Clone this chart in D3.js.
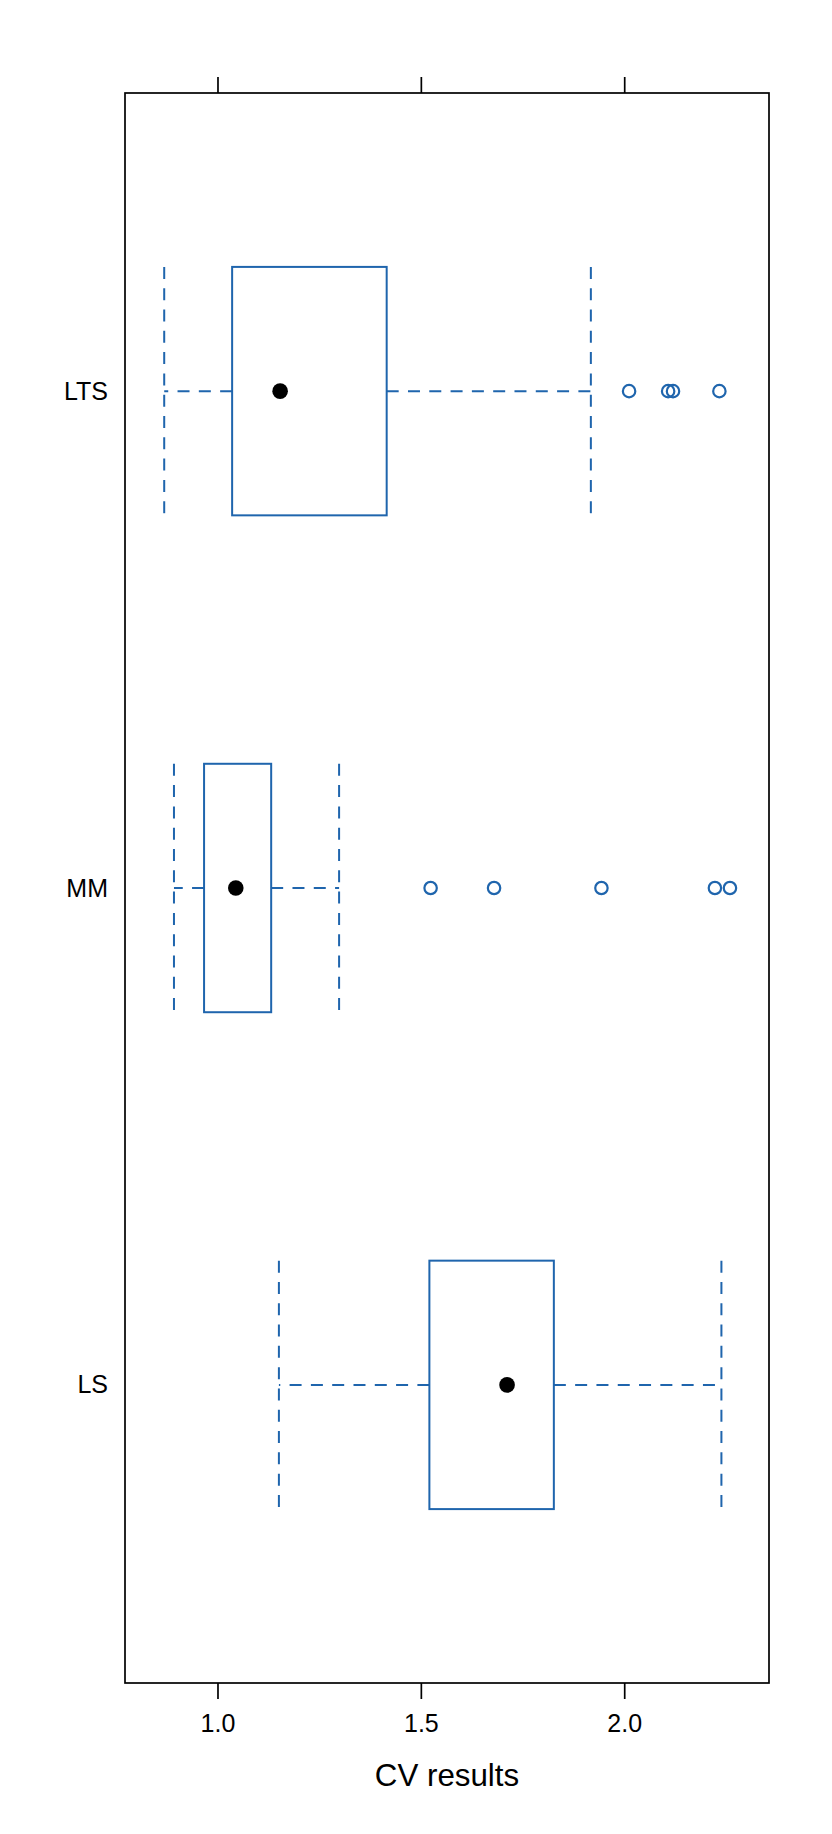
<!DOCTYPE html>
<html>
<head>
<meta charset="utf-8">
<script src="https://cdn.jsdelivr.net/npm/d3@7"></script>
<style>
  html, body { margin: 0; padding: 0; background: #ffffff; }
  svg { display: block; font-family: "Liberation Sans", Arial, Helvetica, sans-serif; }
</style>
</head>
<body>
<svg id="chart" width="832" height="1834"></svg>
<script>
// ---- data ----
const categories = ["LTS", "MM", "LS"];          // top to bottom
const whiskerLow  = [0.869, 0.893, 1.151];
const boxLow      = [1.036, 0.967, 1.521];
const medians     = [1.154, 1.045, 1.712];
const boxHigh     = [1.416, 1.132, 1.827];
const whiskerHigh = [1.918, 1.299, 2.239];
const outliers    = [
  [2.012, 2.108, 2.120, 2.234],
  [1.524, 1.680, 1.944, 2.223, 2.260],
  []
];
const xTicks = [1.0, 1.5, 2.0];
const xLabel = "CV results";

// ---- layout ----
const panel = { left: 125, right: 769, top: 93, bottom: 1683 };
const blue = "#1f65ad";

const svg = d3.select("#chart");

const x = d3.scaleLinear().domain([0.7726, 2.356]).range([panel.left, panel.right]);
const y = d3.scalePoint().domain(categories).range([panel.top, panel.bottom]).padding(0.6);
const boxH = y.step() * 0.5;

const rows = categories.map((c, i) => ({
  cat: c, wl: whiskerLow[i], q1: boxLow[i], med: medians[i], q3: boxHigh[i], wh: whiskerHigh[i], out: outliers[i]
}));

// frame
svg.append("rect")
  .attr("x", panel.left).attr("y", panel.top)
  .attr("width", panel.right - panel.left).attr("height", panel.bottom - panel.top)
  .attr("fill", "none").attr("stroke", "#000").attr("stroke-width", 1.7);

// bottom axis
const axB = svg.append("g").attr("transform", `translate(0,${panel.bottom})`)
  .call(d3.axisBottom(x).tickValues(xTicks).tickFormat(d3.format(".1f")).tickSize(16).tickPadding(15));
axB.select(".domain").remove();
axB.selectAll("line").attr("stroke", "#000").attr("stroke-width", 1.7);
axB.selectAll("text").attr("font-size", 25).attr("fill", "#000")
  .attr("font-family", "'Liberation Sans', Arial, sans-serif");

// top axis (ticks only)
const axT = svg.append("g").attr("transform", `translate(0,${panel.top})`)
  .call(d3.axisTop(x).tickValues(xTicks).tickFormat("").tickSize(16));
axT.select(".domain").remove();
axT.selectAll("line").attr("stroke", "#000").attr("stroke-width", 1.7);

// left axis (labels only)
const axL = svg.append("g").attr("transform", `translate(${panel.left},0)`)
  .call(d3.axisLeft(y).tickSize(0).tickPadding(17));
axL.select(".domain").remove();
axL.selectAll("text").attr("font-size", 25).attr("fill", "#000")
  .attr("font-family", "'Liberation Sans', Arial, sans-serif");

// x label
svg.append("text")
  .attr("x", (panel.left + panel.right) / 2).attr("y", 1786)
  .attr("text-anchor", "middle").attr("font-size", 31.3).attr("fill", "#000")
  .text(xLabel);

// boxes
const g = svg.append("g");
const dash = "12,9.3";

rows.forEach(r => {
  const cy = y(r.cat);
  const gg = g.append("g");
  gg.append("line").attr("x1", x(r.q1)).attr("x2", x(r.wl)).attr("y1", cy).attr("y2", cy)
    .attr("stroke", blue).attr("stroke-width", 2).attr("stroke-dasharray", dash);
  gg.append("line").attr("x1", x(r.q3)).attr("x2", x(r.wh)).attr("y1", cy).attr("y2", cy)
    .attr("stroke", blue).attr("stroke-width", 2).attr("stroke-dasharray", dash);
  [r.wl, r.wh].forEach(v => {
    gg.append("line").attr("x1", x(v)).attr("x2", x(v))
      .attr("y1", cy - boxH / 2).attr("y2", cy + boxH / 2)
      .attr("stroke", blue).attr("stroke-width", 2).attr("stroke-dasharray", dash);
  });
  gg.append("rect").attr("x", x(r.q1)).attr("y", cy - boxH / 2)
    .attr("width", x(r.q3) - x(r.q1)).attr("height", boxH)
    .attr("fill", "none").attr("stroke", blue).attr("stroke-width", 2);
  gg.append("circle").attr("cx", x(r.med)).attr("cy", cy).attr("r", 7.8).attr("fill", "#000");
  gg.selectAll("circle.out").data(r.out).enter().append("circle").attr("class", "out")
    .attr("cx", d => x(d)).attr("cy", cy).attr("r", 6.2)
    .attr("fill", "none").attr("stroke", blue).attr("stroke-width", 2.2);
});
</script>
</body>
</html>
